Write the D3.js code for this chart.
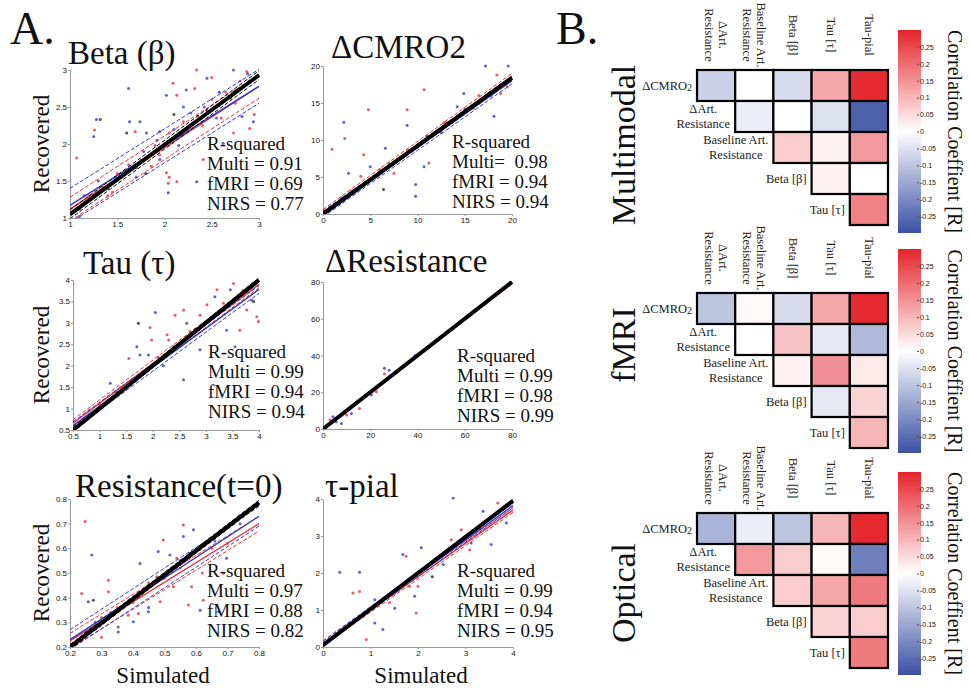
<!DOCTYPE html>
<html lang="en">
<head>
<meta charset="UTF-8">
<title>Parameter recovery and correlation</title>
<script src="https://cdn.jsdelivr.net/npm/d3@7/dist/d3.min.js"></script>
<style>
  * { margin: 0; padding: 0; }
  body { background: #fff; }
  svg text { font-family: 'Liberation Serif', 'Times New Roman', serif; fill: #111; }
  .tick text { font-family: 'Liberation Sans', Arial, sans-serif; }
</style>
</head>
<body>
<svg></svg>
<script>
// ---------- A. recovered vs simulated ----------
const panelNames = ['Beta (β)', 'ΔCMRO2', 'Tau (τ)', 'ΔResistance', 'Resistance(t=0)', 'τ-pial'];
const panelDomains = [[1, 3], [0, 20], [0.5, 4], [0, 80], [0.2, 0.8], [0, 4]];
const panelTicks = [
    [1, 1.5, 2, 2.5, 3],
    [0, 5, 10, 15, 20],
    [0.5, 1, 1.5, 2, 2.5, 3, 3.5, 4],
    [0, 20, 40, 60, 80],
    [0.2, 0.3, 0.4, 0.5, 0.6, 0.7, 0.8],
    [0, 1, 2, 3, 4]
];
const rsqMulti = ['Multi = 0.91', 'Multi=  0.98', 'Multi = 0.99', 'Multi = 0.99', 'Multi = 0.97', 'Multi = 0.99'];
const rsqFmri = ['fMRI = 0.69', 'fMRI = 0.94', 'fMRI = 0.94', 'fMRI = 0.98', 'fMRI = 0.88', 'fMRI = 0.94'];
const rsqNirs = ['NIRS = 0.77', 'NIRS = 0.94', 'NIRS = 0.94', 'NIRS = 0.99', 'NIRS = 0.82', 'NIRS = 0.95'];

// fit lines: [recovered at domain min, recovered at domain max, half width of dashed band]
const fitMulti = [[1.05, 2.93, 0.06], [0.0, 18.4, 0.25], [0.5, 4.0, 0.05], [0, 80, 0.5], [0.2, 0.785, 0.01], [0.05, 3.95, 0.04]];
const fitFmri = [[1.12, 2.78, 0.16], [0.2, 18.6, 0.4], [0.66, 3.9, 0.08], [0, 79.5, 0.6], [0.225, 0.70, 0.03], [0.1, 3.7, 0.06]];
const fitNirs = [[1.17, 2.78, 0.23], [0.0, 18.0, 0.4], [0.6, 3.78, 0.09], [0, 79.8, 0.6], [0.23, 0.73, 0.04], [0.1, 3.82, 0.06]];

// scattered estimates [simulated, recovered]
const redPts = [
    [[1.26, 2.19], [1.07, 1.81], [1.69, 2.17], [2.13, 2.66], [2.09, 2.82], [2.32, 2.75], [2.34, 3.0], [2.87, 2.98], [2.9, 2.21], [2.02, 1.61], [2.04, 1.47], [1.86, 1.7], [2.13, 1.49], [2.41, 1.79], [2.73, 2.15], [2.05, 1.55], [2.6, 2.35], [2.95, 2.4], [1.4, 1.3], [2.5, 2.9],
     [1.2, 1.3], [1.35, 1.42], [1.5, 1.6], [1.62, 1.72], [1.75, 1.78], [1.9, 1.98], [2.05, 2.15], [2.2, 2.3], [2.35, 2.38], [2.5, 2.6], [2.65, 2.7], [2.8, 2.85], [1.45, 1.35], [1.95, 1.85], [2.4, 2.25], [2.75, 2.55]],
    [[0.95, 8.76], [2.3, 10.2], [4.8, 14.1], [4.3, 8.0], [4.0, 5.1], [8.9, 14.1], [10.7, 16.8], [18.4, 18.8], [15.9, 14.3], [11.2, 6.9], [12.8, 12.3], [18.8, 16.3], [7.5, 5.5], [19.5, 17.2], [16.5, 15.0],
     [3, 3.1], [6, 6.0], [9, 8.6], [13, 12.4], [16.5, 16]],
    [[1.95, 2.89], [1.98, 2.6], [1.55, 2.17], [2.27, 2.72], [2.42, 3.18], [2.58, 3.3], [2.89, 3.18], [3.02, 3.42], [3.21, 3.77], [3.52, 3.92], [3.33, 3.46], [3.77, 3.3], [3.96, 3.14], [3.99, 3.03], [2.3, 2.6], [3.64, 2.83], [2.8, 2.85],
     [1.0, 1.1], [1.4, 1.5], [2.1, 2.2], [2.7, 2.8], [3.3, 3.3], [3.7, 3.75]],
    [[26, 30], [10, 7.6], [15.5, 11.2], [22.6, 20.3], [3, 5]],
    [[0.248, 0.709], [0.237, 0.417], [0.322, 0.471], [0.322, 0.424], [0.385, 0.329], [0.417, 0.336], [0.443, 0.444], [0.475, 0.485], [0.496, 0.634], [0.528, 0.444], [0.56, 0.695], [0.586, 0.444], [0.623, 0.39], [0.576, 0.37], [0.687, 0.499], [0.539, 0.56], [0.486, 0.383], [0.3, 0.24], [0.62, 0.5],
     [0.3, 0.32], [0.35, 0.36], [0.4, 0.38], [0.45, 0.46], [0.55, 0.52], [0.65, 0.6], [0.7, 0.62]],
    [[0.63, 1.46], [0.77, 1.5], [1.75, 2.45], [1.82, 1.64], [1.96, 0.92], [2.0, 1.64], [2.46, 2.45], [2.7, 2.9], [2.91, 3.17], [3.09, 2.63], [3.68, 3.89], [0.91, 0.2], [1.4, 1.2],
     [0.5, 0.55], [1.2, 1.2], [1.6, 1.55], [2.2, 2.1], [3.3, 3.2]]
];
const bluePts = [
    [[1.62, 2.75], [1.28, 2.33], [1.25, 2.1], [1.74, 2.3], [1.63, 2.3], [1.81, 2.15], [1.95, 2.17], [2.02, 2.66], [2.23, 2.73], [2.45, 2.89], [2.73, 3.0], [2.82, 2.37], [2.94, 2.3], [2.04, 1.34], [1.95, 1.79], [1.53, 1.56], [2.34, 1.49], [2.62, 2.01], [1.1, 1.02], [2.2, 2.5],
     [1.15, 1.3], [1.3, 1.5], [1.48, 1.55], [1.6, 1.62], [1.78, 1.9], [1.92, 2.05], [2.1, 2.2], [2.28, 2.42], [2.42, 2.5], [2.58, 2.7], [2.7, 2.62], [2.88, 2.95], [1.7, 1.55], [2.15, 1.98], [2.55, 2.35]],
    [[2.2, 12.4], [2.7, 5.5], [5.0, 6.4], [6.6, 8.9], [8.9, 12.0], [14.9, 16.3], [17.2, 20], [19.6, 20], [18.1, 13.2], [9.8, 4.0], [9.8, 2.4], [10.7, 6.4], [14.2, 14.5], [12.5, 11.0], [17.8, 16.0],
     [2, 2.2], [7, 6.8], [11, 10.5], [15, 14.2], [19, 17.5]],
    [[2.05, 3.24], [1.76, 2.25], [1.92, 2.25], [2.64, 2.99], [3.17, 3.61], [3.46, 3.77], [3.39, 2.83], [3.55, 2.44], [2.58, 1.67], [2.89, 2.37], [1.7, 2.44], [1.2, 1.59], [3.86, 3.53], [2.2, 2.0],
     [0.8, 0.95], [1.3, 1.4], [1.8, 1.85], [2.4, 2.45], [3.0, 3.0], [3.6, 3.55]],
    [[26, 33], [28, 32], [39, 40], [5.6, 4], [7.8, 3], [12, 8.5], [20.5, 18.5], [4.2, 6.7]],
    [[0.269, 0.573], [0.258, 0.383], [0.353, 0.261], [0.353, 0.281], [0.422, 0.539], [0.449, 0.343], [0.48, 0.587], [0.517, 0.573], [0.56, 0.648], [0.592, 0.675], [0.613, 0.349], [0.671, 0.343], [0.697, 0.56], [0.401, 0.302], [0.45, 0.36],
     [0.28, 0.3], [0.33, 0.34], [0.42, 0.42], [0.5, 0.48], [0.58, 0.58], [0.66, 0.63], [0.74, 0.7]],
    [[0.35, 2.02], [0.77, 2.02], [1.09, 1.28], [1.09, 0.65], [1.51, 1.05], [1.68, 2.5], [1.93, 1.37], [2.07, 2.68], [2.53, 2.23], [2.74, 4.03], [3.12, 2.81], [3.37, 3.67], [3.54, 2.77], [3.86, 3.35], [3.93, 3.89], [0.14, 0.2], [1.26, 0.47],
     [0.4, 0.45], [1.0, 1.05], [1.5, 1.45], [2.4, 2.35], [3.2, 3.15]]
];
const blackPts = [
    [[1.32, 2.33], [1.6, 2.15], [2.1, 2.4], [1.8, 1.6],
     [1.1, 1.12], [1.25, 1.3], [1.4, 1.4], [1.55, 1.58], [1.7, 1.68], [1.85, 1.85], [2.0, 2.0], [2.15, 2.12], [2.3, 2.28], [2.45, 2.45], [2.6, 2.55], [2.75, 2.72], [2.9, 2.85]],
    [[6.4, 3.3]],
    [[1.73, 2.99], [3.9, 3.5]],
    [],
    [[0.274, 0.39], [0.25, 0.26], [0.35, 0.35], [0.45, 0.45], [0.55, 0.55], [0.65, 0.64], [0.72, 0.71]],
    [[2.3, 1.9]]
];

// ---------- B. correlation matrices ----------
const hmColumns = [['ΔArt.', 'Resistance'], ['Baseline Art.', 'Resistance'], ['Beta [β]'], ['Tau [τ]'], ['Tau-pial']];
const hmRows = [['ΔCMRO'], ['ΔArt.', 'Resistance'], ['Baseline Art.', 'Resistance'], ['Beta [β]'], ['Tau [τ]']];
const hmNames = ['Multimodal', 'fMRI', 'Optical'];
const corrMultimodal = [[-0.08, 0.0, -0.06, 0.12, 0.29], [-0.03, 0.0, -0.05, -0.27], [0.07, 0.02, 0.14], [0.02, 0.0], [0.17]];
const corrFmri = [[-0.1, 0.01, -0.06, 0.12, 0.29], [0.0, 0.08, -0.04, -0.12], [0.02, 0.15, 0.03], [-0.04, 0.06], [0.1]];
const corrOptical = [[-0.13, -0.03, -0.1, 0.1, 0.29], [0.14, 0.07, 0.01, -0.22], [0.07, 0.12, 0.18], [0.06, 0.07], [0.18]];
const cbTicks = [0.25, 0.2, 0.15, 0.1, 0.05, 0, -0.05, -0.1, -0.15, -0.2, -0.25];

// ---------- layout ----------
const W = 969, H = 689;
const svg = d3.select('svg').attr('width', W).attr('height', H);

const boxes = [
    { x0: 70, x1: 259, y0: 218, y1: 70, tx: 68, ty: 64, rx: 207, ry: 150 },
    { x0: 323, x1: 512, y0: 214, y1: 66, tx: 331, ty: 58, rx: 452, ry: 148 },
    { x0: 73, x1: 259, y0: 430, y1: 280, tx: 83, ty: 274, rx: 208, ry: 358 },
    { x0: 323, x1: 512, y0: 429, y1: 282, tx: 325, ty: 272, rx: 457, ry: 362 },
    { x0: 70, x1: 259, y0: 647, y1: 499, tx: 75, ty: 497, rx: 207, ry: 577 },
    { x0: 323, x1: 513, y0: 647, y1: 499, tx: 325, ty: 497, rx: 457, ry: 577 }
];
const RED = '#e8323a', BLUE = '#3338c4';

svg.append('text').attr('x', 10).attr('y', 44).style('font-size', '46px').text('A.');
svg.append('text').attr('x', 556).attr('y', 44).style('font-size', '46px').text('B.');

[144, 355, 573].forEach(cy => {
    svg.append('text').attr('transform', `translate(41,${cy}) rotate(-90)`)
        .attr('text-anchor', 'middle').attr('dominant-baseline', 'central')
        .style('font-size', '23px').text('Recovered');
});
[[163, 683], [421, 683]].forEach(p => {
    svg.append('text').attr('x', p[0]).attr('y', p[1]).attr('text-anchor', 'middle')
        .style('font-size', '23px').text('Simulated');
});

panelNames.forEach((name, i) => {
    const b = boxes[i];
    const dom = panelDomains[i];
    const x = d3.scaleLinear().domain(dom).range([b.x0, b.x1]);
    const y = d3.scaleLinear().domain(dom).range([b.y0, b.y1]);
    const g = svg.append('g');

    g.append('clipPath').attr('id', 'clip' + i).append('rect')
        .attr('x', b.x0).attr('y', b.y1 - 2).attr('width', b.x1 - b.x0 + 2).attr('height', b.y0 - b.y1 + 2);

    const styleAxis = a => {
        a.selectAll('.domain').attr('stroke', '#9a9a9a');
        a.selectAll('.tick line').attr('stroke', '#9a9a9a');
        a.selectAll('.tick text').attr('fill', '#555').style('font-size', '8px');
    };
    g.append('g').attr('transform', `translate(0,${b.y0})`)
        .call(d3.axisBottom(x).tickValues(panelTicks[i]).tickSize(2).tickSizeOuter(0).tickPadding(1).tickFormat(d => d))
        .call(styleAxis);
    g.append('g').attr('transform', `translate(${b.x0},0)`)
        .call(d3.axisLeft(y).tickValues(panelTicks[i]).tickSize(2).tickSizeOuter(0).tickPadding(1).tickFormat(d => d))
        .call(styleAxis);

    const plot = g.append('g').attr('clip-path', `url(#clip${i})`);

    const drawFit = (f, color, w) => {
        [[0, w, null], [f[2], 1, '4,2'], [-f[2], 1, '4,2']].forEach(([off, sw, dash]) => {
            plot.append('line')
                .attr('x1', x(dom[0])).attr('y1', y(f[0] + off))
                .attr('x2', x(dom[1])).attr('y2', y(f[1] + off))
                .attr('stroke', color).attr('stroke-width', sw)
                .attr('stroke-dasharray', dash);
        });
    };

    [[redPts[i], RED], [bluePts[i], BLUE], [blackPts[i], '#222']].forEach(([pts, color]) => {
        plot.selectAll(null).data(pts).enter().append('circle')
            .attr('cx', d => x(d[0])).attr('cy', d => y(d[1]))
            .attr('r', 1.5).attr('fill', color).attr('opacity', 0.8);
    });

    drawFit(fitFmri[i], RED, 1.4);
    drawFit(fitNirs[i], BLUE, 1.4);
    drawFit(fitMulti[i], '#000', 4);

    g.append('text').attr('x', b.tx).attr('y', b.ty).style('font-size', '33px').text(name);

    ['R-squared', rsqMulti[i], rsqFmri[i], rsqNirs[i]].forEach((t, k) => {
        g.append('text').attr('x', b.rx).attr('y', b.ry + k * 20)
            .style('font-size', '19px').style('white-space', 'pre').attr('xml:space', 'preserve').text(t);
    });
});

// ---------- heat maps ----------
const hmLayout = [
    { top: 70, cbTop: 30, cbBot: 233, nameY: 145 },
    { top: 293, cbTop: 249, cbBot: 453, nameY: 345 },
    { top: 513, cbTop: 472, cbBot: 675, nameY: 593 }
];
const corrSets = [corrMultimodal, corrFmri, corrOptical];
const color = d3.scaleLinear().domain([-0.3, 0, 0.3]).range(['#3a50a4', '#ffffff', '#e5232a']);
const cx0 = 697, cw = 38.2, rh = 31;

const defs = svg.append('defs');
const grad = defs.append('linearGradient').attr('id', 'cbgrad')
    .attr('x1', 0).attr('y1', 1).attr('x2', 0).attr('y2', 0);
d3.range(0, 1.0001, 0.1).forEach(t => {
    grad.append('stop').attr('offset', t).attr('stop-color', color(-0.3 + 0.6 * t));
});

hmLayout.forEach((L, p) => {
    const g = svg.append('g');
    const corr = corrSets[p];

    g.append('text').attr('transform', `translate(623,${L.nameY}) rotate(-90)`)
        .attr('text-anchor', 'middle').attr('dominant-baseline', 'central')
        .style('font-size', '34px').text(hmNames[p]);

    // column labels
    hmColumns.forEach((lines, c) => {
        const t = g.append('text')
            .attr('transform', `translate(${cx0 + (c + 0.5) * cw},${L.top - 35}) rotate(90)`)
            .attr('text-anchor', 'middle').style('font-size', '12.5px').style('fill', '#222');
        lines.forEach((ln, k) => {
            t.append('tspan').attr('x', 0).attr('y', (k - (lines.length - 1) / 2) * 14)
                .attr('dominant-baseline', 'central').text(ln);
        });
    });

    // cells
    corr.forEach((row, r) => {
        g.selectAll(null).data(row).enter().append('rect')
            .attr('x', (d, k) => cx0 + (r + k) * cw)
            .attr('y', L.top + r * rh)
            .attr('width', cw).attr('height', rh)
            .attr('fill', d => color(d))
            .attr('stroke', '#000').attr('stroke-width', 2.2);

        // row label
        const lines = hmRows[r];
        const lab = g.append('text').style('font-size', '12.5px').style('fill', '#222')
            .attr('text-anchor', 'middle');
        lines.forEach((ln, k) => {
            lab.append('tspan').attr('x', 0)
                .attr('y', L.top + (r + 0.5) * rh + (k - (lines.length - 1) / 2) * 15)
                .attr('dominant-baseline', 'central').text(ln);
        });
        if (r === 0) {
            lab.append('tspan').attr('dy', 5).style('font-size', '10px').text('2');
        }
        const bw = lab.node().getBBox().width;
        lab.attr('transform', `translate(${cx0 + r * cw - 5 - bw / 2},0)`);
    });

    // colour bar
    const cy = d3.scaleLinear().domain([-0.3, 0.3]).range([L.cbBot, L.cbTop]);
    g.append('rect').attr('x', 898).attr('y', L.cbTop).attr('width', 23)
        .attr('height', L.cbBot - L.cbTop).attr('fill', 'url(#cbgrad)');
    const ax = g.append('g').attr('transform', 'translate(917,0)')
        .call(d3.axisRight(cy).tickValues(cbTicks).tickSize(2).tickSizeOuter(0).tickPadding(1).tickFormat(d => d));
    ax.select('.domain').remove();
    ax.selectAll('.tick line').attr('stroke', '#555');
    ax.selectAll('.tick text').attr('fill', '#444').style('font-size', '7px');

    g.append('text').attr('transform', `translate(955,${(L.cbTop + L.cbBot) / 2}) rotate(90)`)
        .attr('text-anchor', 'middle').attr('dominant-baseline', 'central')
        .style('font-size', '20px').text('Correlation Coeffient [R]');
});
</script>
</body>
</html>
